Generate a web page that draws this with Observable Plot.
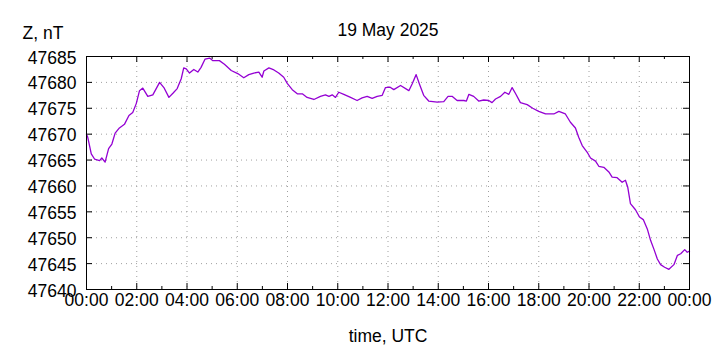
<!DOCTYPE html>
<html>
<head>
<meta charset="utf-8">
<script src="https://cdn.jsdelivr.net/npm/d3@7"></script>
<script src="https://cdn.jsdelivr.net/npm/@observablehq/plot@0.6"></script>
<style>
  html, body { margin: 0; padding: 0; background: #fff; }
</style>
</head>
<body>
<div id="chart"></div>
<script>
// Time of day, hours UTC
const hours = [
  0.00, 0.05, 0.19, 0.32, 0.52, 0.61, 0.74, 0.88, 1.01, 1.14, 1.31, 1.51, 1.69, 1.84, 1.98,
  2.11, 2.24, 2.44, 2.64, 2.91, 3.08, 3.28, 3.44, 3.61, 3.77, 3.87, 3.97, 4.10, 4.27, 4.43,
  4.56, 4.72, 4.90, 5.03, 5.29, 5.49, 5.76, 6.02, 6.26, 6.46, 6.66, 6.86, 6.99, 7.06, 7.26,
  7.46, 7.65, 7.85, 7.99, 8.19, 8.39, 8.59, 8.78, 9.05, 9.31, 9.51, 9.65, 9.78, 9.91, 10.04,
  10.24, 10.51, 10.77, 10.97, 11.17, 11.37, 11.57, 11.77, 11.90, 12.07, 12.23, 12.50, 12.83, 12.96, 13.12,
  13.25, 13.42, 13.62, 13.96, 14.22, 14.39, 14.55, 14.75, 15.02, 15.12, 15.22, 15.41, 15.61, 15.81, 16.01,
  16.14, 16.28, 16.48, 16.65, 16.81, 16.94, 17.07, 17.27, 17.54, 17.76, 18.00, 18.27, 18.60, 18.80, 19.06,
  19.26, 19.46, 19.59, 19.73, 19.93, 20.06, 20.26, 20.39, 20.59, 20.79, 20.92, 21.12, 21.32, 21.45, 21.54,
  21.65, 21.85, 22.01, 22.16, 22.32, 22.45, 22.59, 22.72, 22.85, 23.01, 23.18, 23.38, 23.52, 23.65, 23.81,
  23.91, 24.00
];
// Z component, nT
const zValues = [
  47670.0, 47669.4, 47666.2, 47665.2, 47664.9, 47665.4, 47664.6, 47667.2, 47668.1, 47670.2, 47671.2, 47671.9, 47673.6, 47674.2, 47675.9,
  47678.4, 47678.9, 47677.3, 47677.6, 47680.0, 47679.0, 47677.1, 47677.9, 47678.8, 47680.7, 47682.8, 47682.6, 47681.8, 47682.5, 47682.0,
  47682.9, 47684.5, 47684.7, 47684.2, 47684.2, 47683.5, 47682.3, 47681.7, 47680.9, 47681.5, 47681.8, 47682.0, 47681.0, 47682.2, 47682.8,
  47682.4, 47681.8, 47681.0, 47679.8, 47678.6, 47677.8, 47677.8, 47677.1, 47676.7, 47677.3, 47677.6, 47677.3, 47677.6, 47677.1, 47678.1,
  47677.7, 47677.1, 47676.5, 47677.0, 47677.3, 47676.9, 47677.3, 47677.5, 47679.0, 47679.1, 47678.6, 47679.4, 47678.4, 47679.7, 47681.5,
  47679.7, 47677.5, 47676.4, 47676.2, 47676.3, 47677.3, 47677.3, 47676.5, 47676.5, 47676.4, 47677.7, 47677.3, 47676.4, 47676.6, 47676.5,
  47676.1, 47676.8, 47677.3, 47678.1, 47677.7, 47679.0, 47677.9, 47676.1, 47675.7, 47675.0, 47674.4, 47673.9, 47673.9, 47674.4, 47673.9,
  47672.3, 47671.2, 47669.4, 47667.8, 47666.5, 47665.4, 47664.8, 47663.8, 47663.6, 47662.7, 47661.7, 47661.6, 47660.7, 47661.1, 47659.8,
  47656.6, 47655.4, 47654.0, 47653.5, 47651.7, 47649.5, 47647.7, 47645.9, 47644.8, 47644.3, 47643.9, 47644.8, 47646.6, 47646.9, 47647.7,
  47647.2, 47647.4
];

const xMajor = [0, 2, 4, 6, 8, 10, 12, 14, 16, 18, 20, 22, 24];
const xMinor = [1, 3, 5, 7, 9, 11, 13, 15, 17, 19, 21, 23];
const xTickLabels = ["00:00", "02:00", "04:00", "06:00", "08:00", "10:00", "12:00",
                     "14:00", "16:00", "18:00", "20:00", "22:00", "00:00"];
const yTicks = [47640, 47645, 47650, 47655, 47660, 47665, 47670, 47675, 47680, 47685];

const title = "19 May 2025";
const yLabel = "Z, nT";
const xLabel = "time, UTC";

const data = hours.map((h, i) => ({h, z: zValues[i]}));

const W = 720, H = 350;
const mL = 86, mR = 31, mT = 56, mB = 61;
const innerW = W - mL - mR, innerH = H - mT - mB;
const gridColor = "#a0a0a0";
const majorLen = 6, minorLen = 3;

const chart = Plot.plot({
  width: W,
  height: H,
  marginLeft: mL,
  marginRight: mR,
  marginTop: mT,
  marginBottom: mB,
  style: {fontFamily: "'Liberation Sans', Arial, sans-serif", fontSize: "17.5px", background: "#fff", color: "#000", overflow: "visible"},
  x: {domain: [0, 24]},
  y: {domain: [47640, 47685]},
  marks: [
    Plot.ruleX(xMajor.slice(1, -1), {stroke: gridColor, strokeDasharray: "1,4", strokeWidth: 1}),
    Plot.ruleY(yTicks.slice(1, -1), {stroke: gridColor, strokeDasharray: "1,4", strokeWidth: 1}),
    Plot.tickX(xMajor, {x: d => d, stroke: "#000", insetTop: innerH - majorLen}),
    Plot.tickX(xMajor, {x: d => d, stroke: "#000", insetBottom: innerH - majorLen}),
    Plot.tickX(xMinor, {x: d => d, stroke: "#000", insetTop: innerH - minorLen}),
    Plot.tickX(xMinor, {x: d => d, stroke: "#000", insetBottom: innerH - minorLen}),
    Plot.tickY(yTicks, {y: d => d, stroke: "#000", insetRight: innerW - majorLen}),
    Plot.tickY(yTicks, {y: d => d, stroke: "#000", insetLeft: innerW - majorLen}),
    Plot.line(data, {x: "h", y: "z", stroke: "#9400d3", strokeWidth: 1.3}),
    Plot.frame({stroke: "#000", strokeWidth: 1}),
    Plot.axisX({ticks: xMajor, tickFormat: (d, i) => xTickLabels[i], tickSize: 0, tickPadding: 4, label: null}),
    Plot.axisY({ticks: yTicks, tickFormat: d => String(d), tickSize: 0, tickPadding: 10, dy: 1.5, label: null}),
    Plot.text([title], {frameAnchor: "top", dy: -26, lineAnchor: "middle", text: d => d}),
    Plot.text([yLabel], {frameAnchor: "top-left", dx: -64, dy: -23, textAnchor: "start", lineAnchor: "middle", text: d => d}),
    Plot.text([xLabel], {frameAnchor: "bottom", dy: 47, lineAnchor: "middle", text: d => d})
  ]
});
document.getElementById("chart").appendChild(chart);
</script>
</body>
</html>
